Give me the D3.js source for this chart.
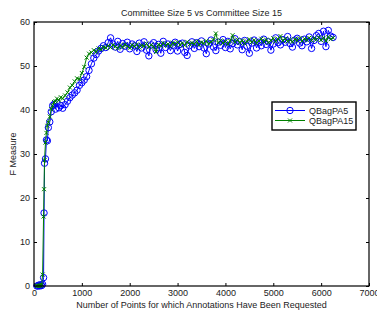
<!DOCTYPE html>
<html>
<head>
<meta charset="utf-8">
<script src="https://cdn.jsdelivr.net/npm/d3@7"></script>
<style>
  body { margin: 0; background: #fff; }
  svg text { font-family: "Liberation Sans", Arial, sans-serif; fill: #222; }
</style>
</head>
<body>
<div id="chart"></div>
<script>
// points requested (x) shared by both runs
const pointsRequested = [
  60, 80, 100, 120, 140, 160, 180, 200, 210, 220, 240, 260, 280, 300, 330, 360, 390, 420, 450, 480,
  520, 560, 600, 650, 700, 750, 800,
  850, 900, 950, 1000, 1050, 1100, 1150, 1200, 1250, 1300, 1350, 1400, 1450, 1500, 1550, 1600, 1650, 1700, 1750, 1800,
  1850, 1900, 1950, 2000, 2050, 2100, 2150, 2200, 2250, 2300, 2350, 2400, 2450, 2500, 2550, 2600, 2650, 2700, 2750, 2800,
  2850, 2900, 2950, 3000, 3050, 3100, 3150, 3200, 3250, 3300, 3350, 3400, 3450, 3500, 3550, 3600, 3650, 3700, 3750, 3800,
  3850, 3900, 3950, 4000, 4050, 4100, 4150, 4200, 4250, 4300, 4350, 4400, 4450, 4500, 4550, 4600, 4650, 4700, 4750, 4800,
  4850, 4900, 4950, 5000, 5050, 5100, 5150, 5200, 5250, 5300, 5350, 5400, 5450, 5500, 5550, 5600, 5650, 5700, 5750, 5800,
  5850, 5900, 5950, 6000, 6050, 6100, 6150, 6200, 6250
];

const qbagPA5 = [
  0, 0, 0.2, 0, 0.3, 0.1, 0.4, 1.9, 16.6, 27.9, 28.9, 33.2, 33.0, 36.0, 37.3, 39.6, 41.0, 41.3, 40.2, 41.6,
  40.5, 41.0, 40.4, 41.2, 42.0, 42.8, 43.4,
  43.9, 44.5, 45.6, 46.2, 46.8, 47.6, 49.0, 50.5, 51.8, 52.6, 53.4, 54.0, 54.6, 54.2, 55.3, 56.4, 55.0, 54.3, 55.6, 53.8,
  55.1, 54.5, 55.4, 53.9, 55.0, 54.6, 53.3, 55.2, 54.1, 55.5, 53.6, 52.3, 54.8, 55.3, 53.7, 54.9, 52.9, 55.6, 54.2, 55.0,
  53.5, 54.7, 55.4, 53.4, 54.9, 55.2, 53.1, 52.4, 54.6, 55.5, 54.0, 55.3, 54.4, 55.7, 54.1, 52.8, 55.0, 55.9, 54.3, 53.5,
  55.4, 54.7, 56.0, 54.2, 55.6, 53.9, 55.1, 56.2, 54.8, 55.5, 53.7, 55.8, 54.5, 52.9, 55.2, 55.9, 54.1, 55.4, 54.6, 56.1,
  54.9, 55.5, 53.6, 55.0, 56.4, 55.3, 54.8, 56.0, 55.4, 56.7, 55.1, 54.3, 55.9, 56.3, 55.2, 54.6, 56.1, 55.5, 56.6, 54.0,
  55.8, 56.9, 57.4, 55.6, 57.9, 54.4, 58.1, 56.8, 56.5
];

const qbagPA15 = [
  0, 0.1, 0, 0.2, 0, 0.3, 2.6, 15.8, 22.0, 28.6, 32.6, 34.8, 36.4, 37.2, 38.5, 40.2, 41.0, 41.8, 42.0, 42.6,
  42.2, 42.9, 42.6, 43.3, 44.0, 45.1, 45.6,
  46.5, 47.2, 47.0, 48.4, 49.8, 51.9, 52.8, 53.1, 53.6, 53.2, 54.0, 53.7, 54.3, 54.1, 54.6, 54.2, 54.8, 54.4, 54.0, 54.7,
  54.3, 54.9, 54.5, 54.1, 54.8, 54.4, 54.9, 54.2, 54.7, 54.5, 55.1, 54.3, 54.8, 54.4, 53.2, 54.9, 54.6, 55.2, 54.7, 55.0,
  54.5, 55.3, 54.9, 55.4, 54.8, 55.2, 54.7, 55.5, 54.9, 55.3, 55.0, 55.6, 54.8, 55.4, 55.1, 55.7, 55.0, 55.5, 55.9, 57.4,
  55.3, 55.8, 55.2, 55.6, 55.0, 55.7, 57.0, 55.4, 56.0, 55.3, 55.8, 55.1, 55.6, 56.1, 55.4, 55.9, 55.2, 55.7, 56.2, 55.5,
  56.0, 55.3, 55.8, 56.3, 55.6, 56.1, 56.8, 55.7, 56.2, 55.6, 56.0, 55.5, 56.1, 55.8, 56.3, 55.7, 56.2, 55.9, 56.4, 55.8,
  56.3, 56.0, 56.5, 55.9, 56.4, 55.7, 56.6, 56.1, 56.4
];

const xTicks = [0, 1000, 2000, 3000, 4000, 5000, 6000, 7000];
const yTicks = [0, 10, 20, 30, 40, 50, 60];
const seriesNames = ['QBagPA5', 'QBagPA15'];

const width = 377, height = 311;
const margin = { top: 22, right: 8, bottom: 25, left: 34 };
const innerW = width - margin.left - margin.right;
const innerH = height - margin.top - margin.bottom;

const svg = d3.select('#chart').append('svg')
  .attr('width', width)
  .attr('height', height);

const chart = svg.append('g')
  .attr('transform', `translate(${margin.left}, ${margin.top})`);

const x = d3.scaleLinear().domain([0, 7000]).range([0, innerW]);
const y = d3.scaleLinear().domain([0, 60]).range([innerH, 0]);

// axes, matlab style: ticks inward on all four sides
const tickLen = 3;
const fmt = d3.format('d');
chart.append('g')
  .attr('transform', `translate(0, ${innerH})`)
  .call(d3.axisBottom(x).tickValues(xTicks).tickFormat(fmt).tickSizeInner(-tickLen).tickSizeOuter(0).tickPadding(4))
  .call(g => g.select('.domain').remove());
chart.append('g')
  .call(d3.axisTop(x).tickValues(xTicks).tickSizeInner(-tickLen).tickSizeOuter(0).tickFormat(''))
  .call(g => g.select('.domain').remove());
chart.append('g')
  .call(d3.axisLeft(y).tickValues(yTicks).tickFormat(fmt).tickSizeInner(-tickLen).tickSizeOuter(0).tickPadding(4))
  .call(g => g.select('.domain').remove());
chart.append('g')
  .attr('transform', `translate(${innerW}, 0)`)
  .call(d3.axisRight(y).tickValues(yTicks).tickSizeInner(-tickLen).tickSizeOuter(0).tickFormat(''))
  .call(g => g.select('.domain').remove());

chart.selectAll('.tick text')
  .attr('font-size', 9)
  .attr('font-family', '"Liberation Sans", Arial, sans-serif')
  .attr('fill', '#222');
chart.selectAll('.tick line').attr('stroke', '#000');

const series = [
  { name: seriesNames[0], values: qbagPA5, color: '#0000ff', marker: 'circle' },
  { name: seriesNames[1], values: qbagPA15, color: '#008000', marker: 'cross' }
];

const line = d3.line()
  .x(d => x(d[0]))
  .y(d => y(d[1]));

function drawMarker(g, px, py, s) {
  if (s.marker === 'circle') {
    g.append('circle')
      .attr('cx', px).attr('cy', py).attr('r', 3.2)
      .attr('fill', 'none').attr('stroke', s.color).attr('stroke-width', 1);
  } else {
    const r = 2;
    g.append('path')
      .attr('d', `M${px - r},${py - r}L${px + r},${py + r}M${px - r},${py + r}L${px + r},${py - r}`)
      .attr('stroke', s.color).attr('stroke-width', 1);
  }
}

series.forEach(s => {
  const pts = s.values.map((v, i) => [pointsRequested[i], v]);
  const g = chart.append('g');
  g.append('path')
    .datum(pts)
    .attr('fill', 'none')
    .attr('stroke', s.color)
    .attr('stroke-width', 1)
    .attr('d', line);
  pts.forEach(p => drawMarker(g, x(p[0]), y(p[1]), s));
});

// box
chart.append('rect')
  .attr('width', innerW).attr('height', innerH)
  .attr('fill', 'none').attr('stroke', '#000').attr('stroke-width', 1.2);

// legend
const legend = svg.append('g').attr('transform', 'translate(272, 102)');
legend.append('rect')
  .attr('width', 84).attr('height', 28)
  .attr('fill', '#fff').attr('stroke', '#000').attr('stroke-width', 1.4);
series.forEach((s, i) => {
  const ly = 8.5 + i * 10;
  legend.append('line')
    .attr('x1', 3).attr('x2', 33).attr('y1', ly).attr('y2', ly)
    .attr('stroke', s.color).attr('stroke-width', 1);
  drawMarker(legend, 18, ly, s);
  legend.append('text')
    .attr('x', 37).attr('y', ly + 3.2)
    .attr('font-size', 9)
    .text(s.name);
});

// titles
svg.append('text')
  .attr('x', margin.left + innerW / 2).attr('y', 15.5)
  .attr('text-anchor', 'middle').attr('font-size', 9)
  .text('Committee Size 5 vs Committee Size 15');
svg.append('text')
  .attr('x', margin.left + innerW / 2).attr('y', 308)
  .attr('text-anchor', 'middle').attr('font-size', 9)
  .text('Number of Points for which Annotations Have Been Requested');
svg.append('text')
  .attr('transform', `translate(16, ${margin.top + innerH / 2}) rotate(-90)`)
  .attr('text-anchor', 'middle').attr('font-size', 9)
  .text('F Measure');
</script>
</body>
</html>
